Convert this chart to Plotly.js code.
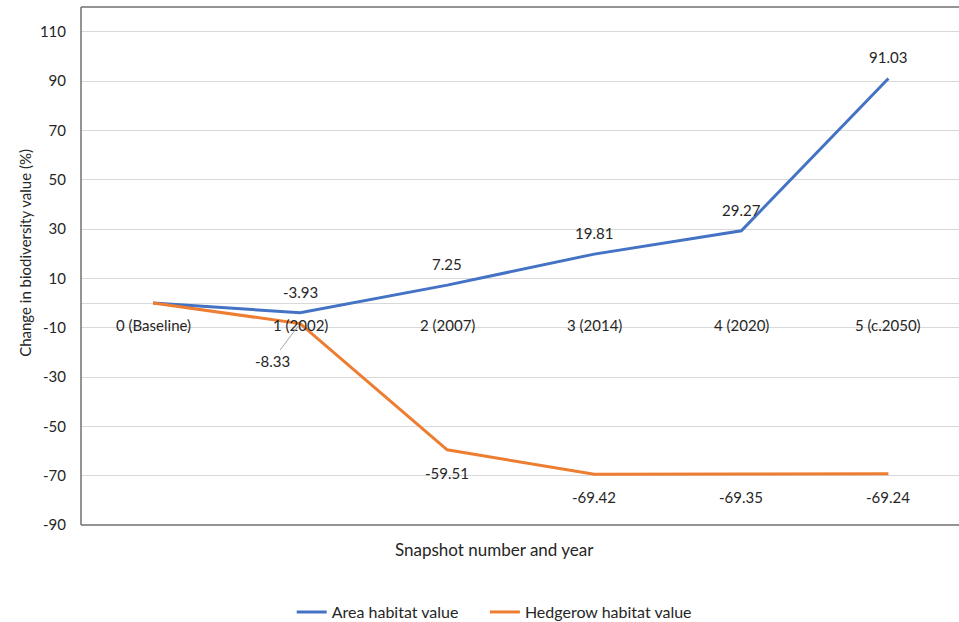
<!DOCTYPE html>
<html>
<head>
<meta charset="utf-8">
<script src="https://cdn.plot.ly/plotly-3.0.1.min.js"></script>
<style>html,body{margin:0;padding:0;background:#fff;}#chart{width:959px;height:622px;}</style>
</head>
<body>
<div id="chart"></div>
<script>
const categories = ["0 (Baseline)", "1 (2002)", "2 (2007)", "3 (2014)", "4 (2020)", "5 (c.2050)"];
const areaValues = [0, -3.93, 7.25, 19.81, 29.27, 91.03];
const hedgerowValues = [0, -8.33, -59.51, -69.42, -69.35, -69.24];
const areaLabels = ["", "-3.93", "7.25", "19.81", "29.27", "91.03"];
const hedgerowLabels = ["", "-8.33", "-59.51", "-69.42", "-69.35", "-69.24"];
const yTicks = [-90, -70, -50, -30, -10, 10, 30, 50, 70, 90, 110];

const FONT = "Lato, 'Open Sans', sans-serif";
const TXT = "#262626";
const LS = 15;
const xs = categories.map((c, i) => i);

const traces = [
  {x: xs, y: areaValues, name: "Area habitat value", type: "scatter", mode: "lines",
   line: {color: "#4472C4", width: 3}, legend: "legend"},
  {x: xs, y: hedgerowValues, name: "Hedgerow habitat value", type: "scatter", mode: "lines",
   line: {color: "#ED7D31", width: 3}, legend: "legend2"}
];

const annotations = [];
categories.forEach((c, i) => {
  annotations.push({x: i, y: 0, xref: "x", yref: "y", text: c, showarrow: false,
    yanchor: "middle", yshift: -22, font: {family: FONT, size: LS, color: TXT}});
});
areaLabels.forEach((t, i) => {
  if (!t) return;
  annotations.push({x: i, y: areaValues[i], xref: "x", yref: "y", text: t, showarrow: false,
    yanchor: "middle", yshift: 21, font: {family: FONT, size: LS, color: TXT}});
});
hedgerowLabels.forEach((t, i) => {
  if (!t) return;
  if (i === 1) {
    annotations.push({x: i, y: hedgerowValues[i], xref: "x", yref: "y", text: t, showarrow: true,
      arrowhead: 0, arrowwidth: 1, arrowcolor: "#a6a6a6", ax: -28, ay: 37, standoff: 3,
      font: {family: FONT, size: LS, color: TXT}});
  } else {
    annotations.push({x: i, y: hedgerowValues[i], xref: "x", yref: "y", text: t, showarrow: false,
      yanchor: "middle", yshift: -23, font: {family: FONT, size: LS, color: TXT}});
  }
});
// x axis title
annotations.push({x: 0.4715, y: -0.048, xref: "paper", yref: "paper", text: "Snapshot number and year",
  showarrow: false, yanchor: "middle", xanchor: "center", font: {family: FONT, size: 17, color: TXT}});
// y axis title
annotations.push({x: -0.064, y: 0.525, xref: "paper", yref: "paper", text: "Change in biodiversity value (%)",
  textangle: -90, showarrow: false, yanchor: "middle", xanchor: "center", font: {family: FONT, size: 15, color: TXT}});

const legendBase = {orientation: "h", xanchor: "left", xref: "paper", y: 0.016, yref: "container", yanchor: "middle",
  bgcolor: "rgba(0,0,0,0)", font: {family: FONT, size: 16, color: TXT}};

const layout = {
  width: 959, height: 622,
  margin: {l: 81, r: 0, t: 7, b: 97},
  paper_bgcolor: "#fff", plot_bgcolor: "#fff",
  font: {family: FONT, size: LS, color: TXT},
  showlegend: true,
  legend: Object.assign({}, legendBase, {x: 0.240}),
  legend2: Object.assign({}, legendBase, {x: 0.460}),
  xaxis: {range: [-0.49, 5.48], showticklabels: false, showgrid: false, zeroline: false,
    showline: false, ticks: ""},
  yaxis: {range: [-90, 120], tickvals: yTicks, ticktext: yTicks.map(String),
    showgrid: true, gridcolor: "#d9d9d9", gridwidth: 1,
    zeroline: true, zerolinecolor: "#d9d9d9", zerolinewidth: 1,
    showline: false, ticks: "", ticklabelstandoff: 14,
    tickfont: {family: FONT, size: LS, color: TXT}},
  shapes: [
    {type: "line", xref: "paper", yref: "paper", x0: 0, x1: 0, y0: 0, y1: 1, line: {color: "#707070", width: 1.5}},
    {type: "line", xref: "paper", yref: "paper", x0: 0, x1: 1, y0: 0, y1: 0, line: {color: "#707070", width: 1.5}},
    {type: "line", xref: "paper", yref: "paper", x0: 0, x1: 1, y0: 1, y1: 1, line: {color: "#707070", width: 1.5}}
  ],
  annotations: annotations
};

Plotly.newPlot("chart", traces, layout, {displayModeBar: false, staticPlot: true});
</script>
</body>
</html>
